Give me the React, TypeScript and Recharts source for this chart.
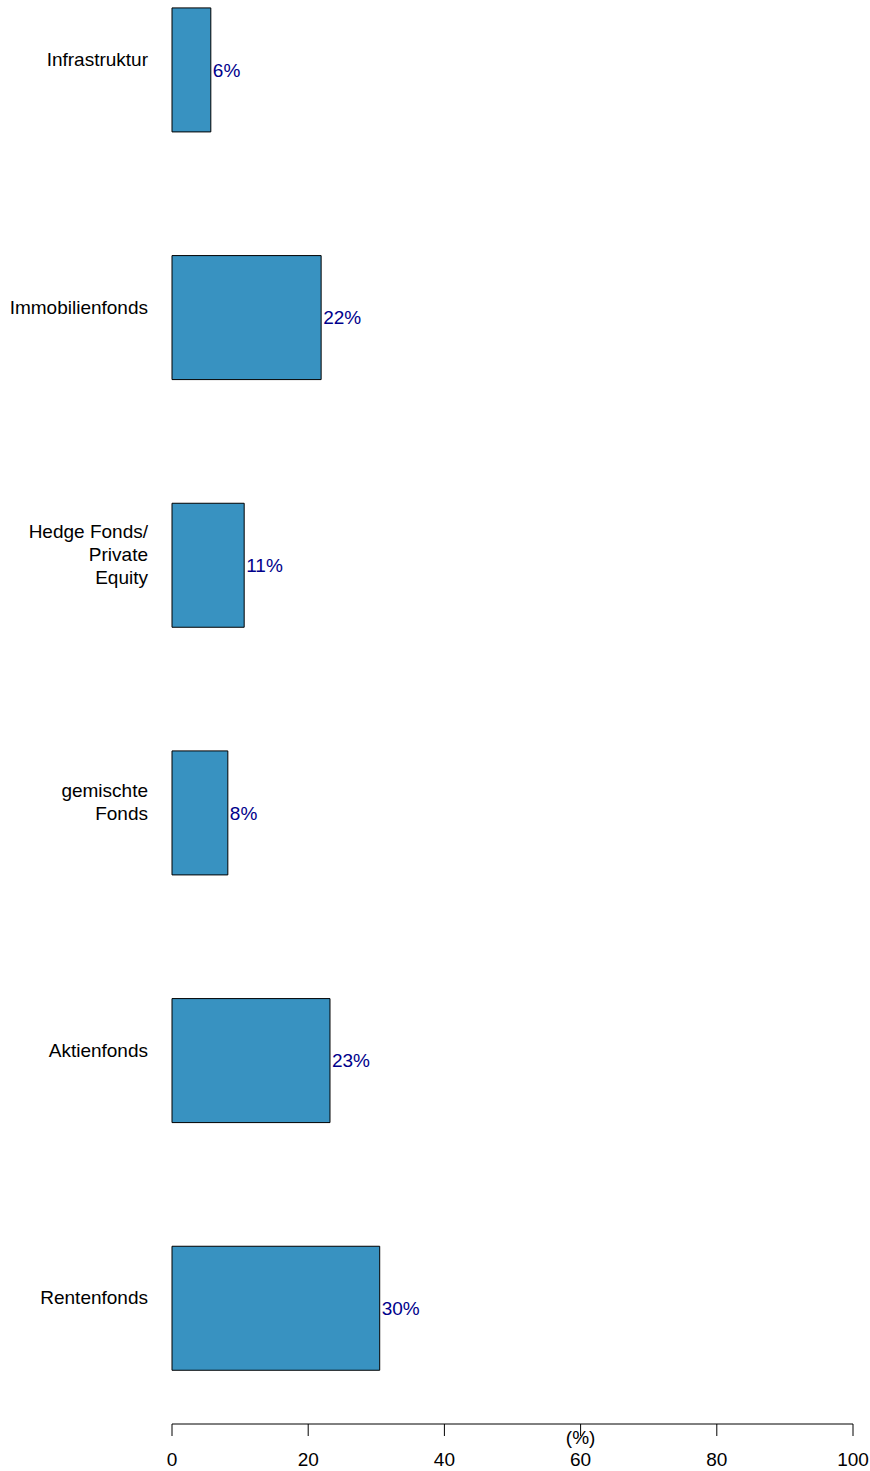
import React from 'react';
import { BarChart, Bar, XAxis, YAxis, LabelList } from 'recharts';

const categories = [
  'Infrastruktur',
  'Immobilienfonds',
  'Hedge Fonds/\nPrivate\nEquity',
  'gemischte\nFonds',
  'Aktienfonds',
  'Rentenfonds',
];
const shares = [5.7, 21.9, 10.6, 8.2, 23.2, 30.5];
const shareLabels = ['6%', '22%', '11%', '8%', '23%', '30%'];
const xTicks = [0, 20, 40, 60, 80, 100];

const data = categories.map((name, i) => ({ name, value: shares[i], label: shareLabels[i] }));

const FONT = '"Liberation Sans", Arial, Helvetica, sans-serif';

// category labels: right aligned, multi-line, sitting a bit above the bar centre
const CategoryTick = (props: any) => {
  const { x, y, payload } = props;
  const lines = String(payload.value).split('\n');
  const lineH = 23;
  const startY = y - 11 - ((lines.length - 1) * lineH) / 2;
  return (
    <text x={x} y={startY} textAnchor="end" fontFamily={FONT} fontSize={19} fill="#000" dominantBaseline="central">
      {lines.map((l, i) => (
        <tspan key={i} x={x} y={startY + i * lineH}>
          {l}
        </tspan>
      ))}
    </text>
  );
};

const UnitLabel = (props: any) => {
  const { viewBox } = props;
  return (
    <text
      x={viewBox.x + viewBox.width * 0.6}
      y={viewBox.y + 20}
      textAnchor="middle"
      fontFamily={FONT}
      fontSize={19}
      fill="#000"
    >
      (%)
    </text>
  );
};

export default function App() {
  return (
    <div style={{ position: 'absolute', left: 0, top: -54, background: '#fff' }}>
      <BarChart
        width={870}
        height={1525}
        data={data}
        layout="vertical"
        margin={{ top: 0, right: 17, bottom: 0, left: 0 }}
        barCategoryGap="25%"
      >
        <XAxis
          type="number"
          domain={[0, 100]}
          ticks={xTicks}
          height={47}
          stroke="#000"
          tickSize={12}
          tickMargin={17}
          tick={{ fill: '#000', fontSize: 19, fontFamily: FONT }}
          label={<UnitLabel />}
        />
        <YAxis
          type="category"
          dataKey="name"
          width={172}
          axisLine={false}
          tickLine={false}
          tickSize={0}
          tickMargin={24}
          padding={{ top: 0, bottom: -8 }}
          tick={<CategoryTick />}
        />
        <Bar dataKey="value" fill="#3892C1" stroke="#000" strokeWidth={1} isAnimationActive={false}>
          <LabelList
            dataKey="label"
            position="right"
            offset={2}
            fill="#00008B"
            fontSize={19}
            fontFamily={FONT}
          />
        </Bar>
      </BarChart>
    </div>
  );
}
